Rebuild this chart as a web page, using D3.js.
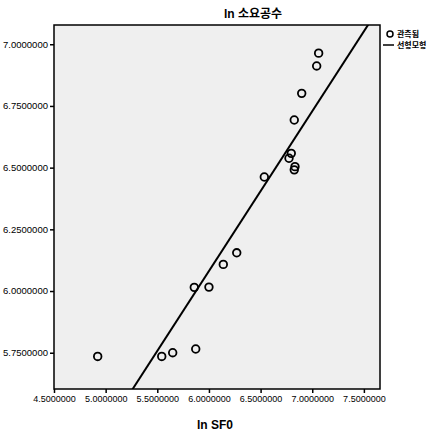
<!DOCTYPE html>
<html>
<head>
<meta charset="utf-8">
<script src="https://cdn.jsdelivr.net/npm/d3@7"></script>
<style>
body { margin: 0; background: #fff; }
text { font-family: "Liberation Sans", "Noto Sans CJK KR", sans-serif; }
</style>
</head>
<body>
<div id="place"></div>
<script>
// ln SF0 (x) et ln 소요공수 (y)
const lnSF0 = [7.062, 7.043, 6.898, 6.826, 6.797, 6.775, 6.833, 6.826, 6.536,
  6.269, 6.139, 5.858, 6.000, 5.872, 5.649, 5.543, 4.923];
const lnEffort = [6.964, 6.912, 6.801, 6.693, 6.558, 6.538, 6.504, 6.491, 6.462,
  6.155, 6.108, 6.015, 6.016, 5.765, 5.750, 5.735, 5.735];
// modèle linéaire
const fitB0 = 2.196, fitB1 = 0.6475;
const xTicks = [4.5, 5.0, 5.5, 6.0, 6.5, 7.0, 7.5];
const yTicks = [5.75, 6.0, 6.25, 6.5, 6.75, 7.0];
const legendLabels = ["관측됨", "선형모형"];

const W = 435, H = 436;
const margin = { top: 25, right: 55, bottom: 47, left: 54 };
const width = W - margin.left - margin.right,
  height = H - margin.top - margin.bottom;

const svg = d3.select("#place").append("svg")
  .attr("width", W).attr("height", H);

const g = svg.append("g")
  .attr("transform", "translate(" + margin.left + "," + margin.top + ")");

const x = d3.scaleLinear().domain([4.5, 7.656]).range([0, width]);
const y = d3.scaleLinear().domain([5.603, 7.078]).range([height, 0]);

// fond gris
g.append("rect").attr("width", width).attr("height", height).attr("fill", "#efefef");

g.append("clipPath").attr("id", "clip")
  .append("rect").attr("width", width).attr("height", height);

// axes
const fmt = d3.format(".7f");
g.append("g")
  .attr("transform", "translate(0," + height + ")")
  .call(d3.axisBottom(x).tickValues(xTicks).tickFormat(fmt).tickSize(4).tickPadding(3))
  .call(a => a.select(".domain").remove())
  .call(a => a.selectAll("text").attr("font-size", 9).attr("fill", "#000"));

g.append("g")
  .call(d3.axisLeft(y).tickValues(yTicks).tickFormat(fmt).tickSize(4).tickPadding(2))
  .call(a => a.select(".domain").remove())
  .call(a => a.selectAll("text").attr("font-size", 9).attr("fill", "#000")
    .attr("textLength", 45).attr("lengthAdjust", "spacingAndGlyphs"));

g.selectAll(".tick line").attr("stroke", "#000").attr("stroke-width", 1.5);

// droite ajustée
const xd = x.domain();
g.append("line")
  .attr("clip-path", "url(#clip)")
  .attr("x1", x(xd[0])).attr("y1", y(fitB0 + fitB1 * xd[0]))
  .attr("x2", x(xd[1])).attr("y2", y(fitB0 + fitB1 * xd[1]))
  .attr("stroke", "#000").attr("stroke-width", 2);

// points observés
g.selectAll("circle.pt")
  .data(lnSF0.map((v, i) => [v, lnEffort[i]]))
  .enter().append("circle")
  .attr("class", "pt")
  .attr("cx", d => x(d[0]))
  .attr("cy", d => y(d[1]))
  .attr("r", 3.8)
  .attr("fill", "none")
  .attr("stroke", "#000")
  .attr("stroke-width", 1.8);

// cadre
g.append("rect").attr("width", width).attr("height", height)
  .attr("fill", "none").attr("stroke", "#000").attr("stroke-width", 1.5);

// titres
svg.append("text").attr("x", 253).attr("y", 18)
  .attr("text-anchor", "middle").attr("font-size", 12).attr("font-weight", "bold")
  .text("ln 소요공수");

svg.append("text").attr("x", 215).attr("y", 429)
  .attr("text-anchor", "middle").attr("font-size", 12).attr("font-weight", "bold")
  .text("ln SF0");

// légende
const lg = svg.append("g").attr("transform", "translate(385,34)");
lg.append("circle").attr("cx", 5).attr("cy", 0).attr("r", 3)
  .attr("fill", "none").attr("stroke", "#000").attr("stroke-width", 1.5);
lg.append("text").attr("x", 12).attr("y", 3).attr("font-size", 8).attr("font-weight", "bold")
  .text(legendLabels[0]);
lg.append("line").attr("x1", -2).attr("x2", 9).attr("y1", 11).attr("y2", 11)
  .attr("stroke", "#000").attr("stroke-width", 1.5);
lg.append("text").attr("x", 12).attr("y", 14).attr("font-size", 8).attr("font-weight", "bold")
  .text(legendLabels[1]);
</script>
</body>
</html>
